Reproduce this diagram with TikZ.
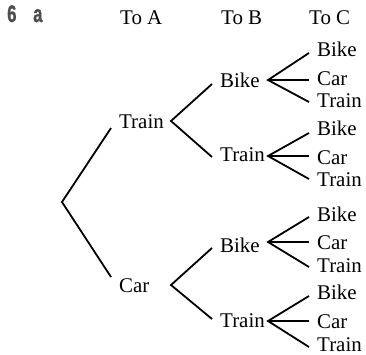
\documentclass[tikz,border=0pt]{standalone}
\usepackage{fontspec}
\setmainfont{Liberation Serif}
\newfontfamily\qfont[FakeBold=1.2]{Liberation Sans Bold}
\definecolor{qgrey}{HTML}{4D4D4F}
\newcommand{\qtext}[1]{{\qfont\fontsize{24}{26}\selectfont\scalebox{0.7}[1]{#1}}}
\begin{document}
\begin{tikzpicture}[x=1bp,y=-1bp,
  lbl/.style={anchor=base west, inner sep=0pt, font=\fontsize{21}{24}\selectfont},
  qnum/.style={anchor=base west, inner sep=0pt, text=qgrey},
  branch/.style={line width=1.8bp}]
\useasboundingbox (0,0) rectangle (366,355);

% question label
\node[qnum] (q6) at (7,22) {\qtext{6}};
\node[qnum] (qa) at (33,22) {\qtext{a}};

% headers
\node[lbl] (hA) at (120,24) {To A};
\node[lbl] (hB) at (221,24) {To B};
\node[lbl] (hC) at (309,24) {To C};

% level 1
\coordinate (root) at (62,202);
\coordinate (e1t) at (111,128);
\coordinate (e1c) at (111,277);
\node[lbl] (l1t) at (119,128) {Train};
\node[lbl] (l1c) at (119,292) {Car};
\draw[branch] (e1t) -- (root) -- (e1c);

% level 2
\coordinate (a2t) at (171,121);
\coordinate (a2c) at (171,285);
\coordinate (e2tb) at (212,84);
\coordinate (e2tt) at (212,157);
\coordinate (e2cb) at (212,248);
\coordinate (e2ct) at (212,319);
\node[lbl] (l2tb) at (220,87) {Bike};
\node[lbl] (l2tt) at (220,161) {Train};
\node[lbl] (l2cb) at (220,252) {Bike};
\node[lbl] (l2ct) at (220,327) {Train};
\draw[branch] (e2tb) -- (a2t) -- (e2tt);
\draw[branch] (e2cb) -- (a2c) -- (e2ct);

% level 3
\foreach \g/\ay/\yb/\yc/\yt/\bb/\bc/\bt in {
  1/80/53/80/102/56/85/107,
  2/156/133/156/179/135/164/186,
  3/242/217/242/267/221/249/272,
  4/321/296/321/347/299/328/351}{
  \coordinate (a3\g) at (268,\ay);
  \coordinate (e3\g b) at (309,\yb);
  \coordinate (e3\g c) at (309,\yc);
  \coordinate (e3\g t) at (309,\yt);
  \node[lbl] (l3\g b) at (317,\bb) {Bike};
  \node[lbl] (l3\g c) at (317,\bc) {Car};
  \node[lbl] (l3\g t) at (317,\bt) {Train};
  \draw[branch] (e3\g b) -- (a3\g) -- (e3\g t);
  \draw[branch] (a3\g) -- (e3\g c);
}
\end{tikzpicture}
\end{document}
